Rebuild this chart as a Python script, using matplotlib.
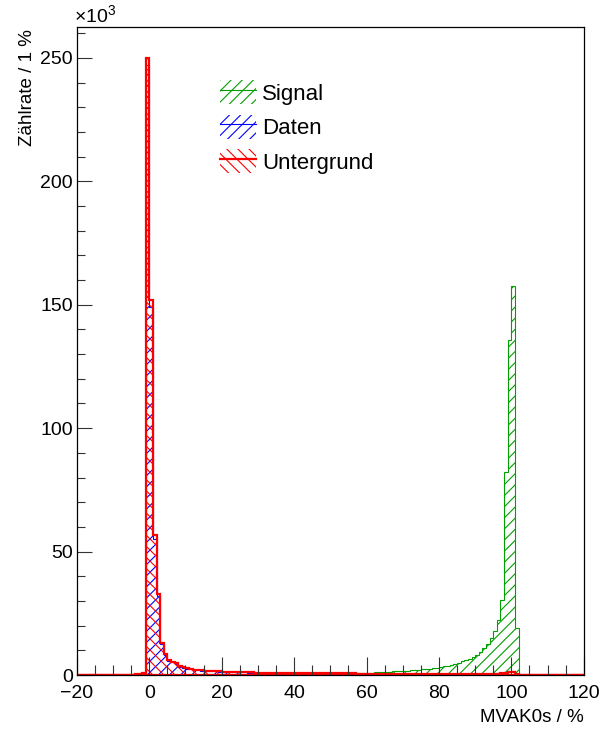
import numpy as np
import matplotlib
matplotlib.use("Agg")
import matplotlib.pyplot as plt
from matplotlib.patches import Patch
from matplotlib.lines import Line2D
from matplotlib.legend_handler import HandlerTuple
from matplotlib.ticker import MultipleLocator

plt.rcParams['font.family'] = ['Liberation Sans', 'DejaVu Sans']
plt.rcParams['mathtext.fontset'] = 'custom'
plt.rcParams['mathtext.rm'] = 'Liberation Sans'
plt.rcParams['hatch.linewidth'] = 0.8

# Binning: 1 % bins from -20 to 120, counts in units of 10^3
edges = np.arange(-20, 121, 1)

signal = [
    0, 0, 0, 0, 0, 0, 0, 0, 0, 0,
    0, 0, 0, 0, 0, 0, 0, 0, 0.05, 0.2,
    0.2, 0.2, 0.2, 0.2, 0.2, 0.2, 0.2, 0.2, 0.2, 0.2,
    0.2, 0.2, 0.2, 0.2, 0.2, 0.22, 0.22, 0.22, 0.24, 0.24,
    0.25, 0.25, 0.26, 0.26, 0.27, 0.27, 0.28, 0.28, 0.29, 0.29,
    0.3, 0.3, 0.31, 0.31, 0.32, 0.33, 0.34, 0.35, 0.36, 0.37,
    0.38, 0.39, 0.4, 0.42, 0.44, 0.46, 0.48, 0.5, 0.52, 0.54,
    0.55, 0.6, 0.62, 0.65, 0.68, 0.7, 0.75, 0.8, 0.85, 0.9,
    0.95, 1.0, 1.05, 1.1, 1.2, 1.3, 1.35, 1.45, 1.5, 1.6,
    1.7, 1.8, 1.9, 2.0, 2.1, 2.3, 2.4, 2.6, 2.8, 3.0,
    3.3, 3.5, 3.8, 4.2, 4.6, 5.0, 5.5, 6.0, 6.6, 7.3,
    8.3, 9.5, 11.0, 12.6, 15.0, 18.0, 22.3, 30.4, 82.4, 135.7,
    157.6, 19.0, 0, 0, 0, 0, 0, 0, 0, 0,
    0, 0, 0, 0, 0, 0, 0, 0, 0, 0,
]

daten = [
    0, 0, 0, 0, 0, 0, 0, 0, 0, 0,
    0, 0, 0, 0.1, 0.1, 0.1, 0.2, 0.3, 0.6, 247.0,
    149.0, 55.0, 32.0, 12.5, 8.0, 5.8, 5.1, 4.4, 3.4, 2.9,
    2.5, 2.25, 2.05, 1.9, 1.8, 1.7, 1.6, 1.5, 1.42, 1.36,
    1.3, 1.25, 1.2, 1.15, 1.1, 1.06, 1.02, 0.99, 0.96, 0.93,
    0.9, 0.88, 0.86, 0.84, 0.82, 0.8, 0.78, 0.76, 0.74, 0.72,
    0.71, 0.7, 0.69, 0.68, 0.67, 0.66, 0.65, 0.64, 0.63, 0.62,
    0.61, 0.6, 0.6, 0.59, 0.58, 0.58, 0.57, 0.56, 0.56, 0.55,
    0.55, 0.54, 0.54, 0.53, 0.53, 0.52, 0.52, 0.51, 0.51, 0.5,
    0.5, 0.5, 0.49, 0.49, 0.48, 0.48, 0.48, 0.47, 0.47, 0.47,
    0.46, 0.46, 0.46, 0.46, 0.46, 0.46, 0.47, 0.47, 0.48, 0.49,
    0.5, 0.52, 0.55, 0.58, 0.62, 0.68, 0.75, 0.9, 1.2, 1.6,
    1.6, 0.6, 0, 0, 0, 0, 0, 0, 0, 0,
    0, 0, 0, 0, 0, 0, 0, 0, 0, 0,
]

untergrund = [
    0, 0, 0, 0, 0, 0, 0, 0, 0, 0,
    0.1, 0.1, 0.1, 0.2, 0.2, 0.2, 0.3, 0.4, 1.0, 249.8,
    152.0, 56.7, 33.0, 13.0, 8.5, 6.0, 5.4, 4.7, 3.6, 3.1,
    2.7, 2.4, 2.2, 2.0, 1.9, 1.8, 1.7, 1.6, 1.5, 1.45,
    1.4, 1.35, 1.3, 1.25, 1.2, 1.15, 1.1, 1.08, 1.05, 1.0,
    0.98, 0.95, 0.93, 0.9, 0.88, 0.86, 0.84, 0.82, 0.8, 0.78,
    0.76, 0.75, 0.74, 0.73, 0.72, 0.71, 0.7, 0.69, 0.68, 0.67,
    0.66, 0.65, 0.64, 0.63, 0.62, 0.62, 0.61, 0.6, 0.6, 0.59,
    0.58, 0.58, 0.57, 0.56, 0.56, 0.55, 0.55, 0.54, 0.54, 0.53,
    0.53, 0.52, 0.52, 0.51, 0.51, 0.5, 0.5, 0.5, 0.49, 0.49,
    0.48, 0.48, 0.48, 0.47, 0.47, 0.47, 0.46, 0.46, 0.46, 0.46,
    0.46, 0.47, 0.48, 0.5, 0.52, 0.55, 0.6, 0.7, 0.9, 1.1,
    1.2, 0.6, 0, 0, 0, 0, 0, 0, 0, 0,
    0, 0, 0, 0, 0, 0, 0, 0, 0, 0,
]

labels = ['Signal', 'Daten', 'Untergrund']
colors = ['#00a000', '#0000ff', '#ff0000']
hatches = ['///', '///', '\\\\\\']
widths = [0.8, 0.8, 1.6]

fig = plt.figure(figsize=(6.1, 7.31), dpi=100)
ax = fig.add_axes([0.126, 0.0766, 0.831, 0.8865])

handles = []
for vals, lab, c, h, lw in zip([signal, daten, untergrund], labels, colors, hatches, widths):
    ax.hist(edges[:-1], bins=edges, weights=vals, histtype='stepfilled',
            facecolor='none', edgecolor=c, hatch=h, linewidth=lw)
    p = Patch(facecolor='none', edgecolor=c, hatch=h, linewidth=0)
    l = Line2D([], [], color=c, linewidth=lw)
    handles.append((p, l))

ax.set_xlim(-20, 120)
ax.set_ylim(0, 262.5)

ax.xaxis.set_major_locator(MultipleLocator(20))
ax.xaxis.set_minor_locator(MultipleLocator(5))
ax.yaxis.set_major_locator(MultipleLocator(50))
ax.yaxis.set_minor_locator(MultipleLocator(10))
ax.tick_params(axis='both', which='both', direction='in', width=0.8, color='#333333')
ax.tick_params(axis='x', which='major', length=13, pad=7, labelsize=14)
ax.tick_params(axis='x', which='minor', length=7)
ax.tick_params(axis='y', which='major', length=11, pad=3, labelsize=14)
ax.tick_params(axis='y', which='minor', length=5.5)
for s in ax.spines.values():
    s.set_linewidth(0.9)

fig.text(584 / 610, 1 - 709 / 731, 'MVAK0s / %', ha='right', va='top', fontsize=13.5)
fig.text(28 / 610, 1 - 29 / 731, 'Zählrate / 1 %', rotation=90, ha='center', va='top', fontsize=13.5)
fig.text(74 / 610, 1 - 27 / 731, '×10$^{\\mathregular{3}}$', ha='left', va='bottom', fontsize=14)

ax.legend(handles=handles, labels=labels, handler_map={tuple: HandlerTuple(ndivide=1)},
          frameon=False, fontsize=16, loc='upper left',
          bbox_to_anchor=(220 / 610, 1 - 80 / 731), bbox_transform=fig.transFigure,
          borderpad=0, borderaxespad=0, handlelength=1.6, handleheight=1.3,
          handletextpad=0.3, labelspacing=0.45)

fig.savefig('out.png', dpi=100)
